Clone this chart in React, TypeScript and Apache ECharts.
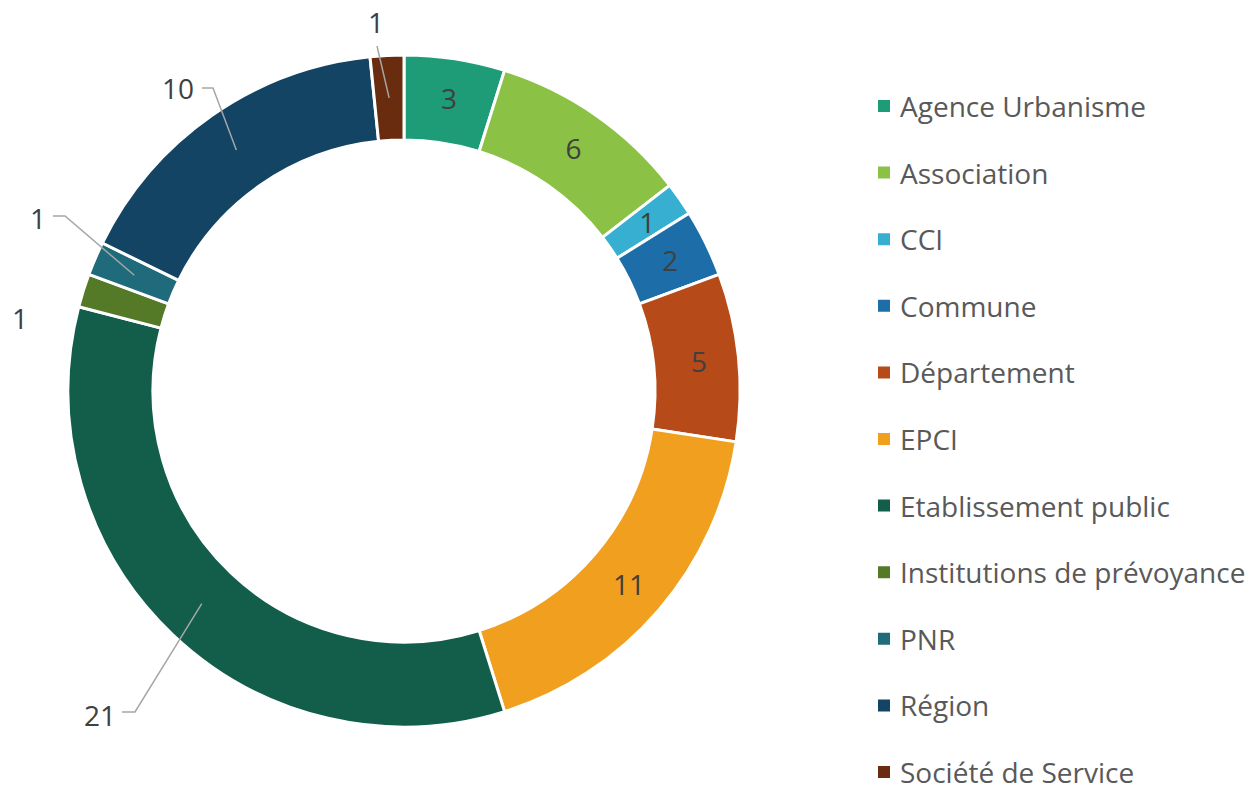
import React, { useEffect, useRef } from "react";
import * as echarts from "echarts";

const categories = [
  "Agence Urbanisme",
  "Association",
  "CCI",
  "Commune",
  "Département",
  "EPCI",
  "Etablissement public",
  "Institutions de prévoyance",
  "PNR",
  "Région",
  "Société de Service",
];
const values = [3, 6, 1, 2, 5, 11, 21, 1, 1, 10, 1];
const colors = [
  "#1E9C78",
  "#8BC145",
  "#37AFD0",
  "#1D6EA8",
  "#B64A19",
  "#F0A01E",
  "#125E4A",
  "#557A27",
  "#1F6B7B",
  "#134464",
  "#6A2C0F",
];

// layout of labels dragged outside the ring (offsets from the pie centre, px)
const CENTER = [404, 391];
const R_IN = 251;
const R_OUT = 336;
const outsidePlacement: Record<string, { label: number[]; elbow?: number[]; end?: number[] }> = {
  "Etablissement public": { label: [-304, 324], elbow: [-269, 321], end: [-282, 321] },
  "Institutions de prévoyance": { label: [-384, -73] },
  PNR: { label: [-366, -173], elbow: [-339, -175], end: [-351, -175] },
  "Région": { label: [-226, -303], elbow: [-191, -303], end: [-202, -303] },
  "Société de Service": { label: [-28, -369], elbow: [-27, -345], end: [-27, -345] },
};

const FONT = "'Open Sans', 'Noto Sans', sans-serif";

export default function App() {
  const ref = useRef<HTMLDivElement>(null);
  useEffect(() => {
    if (!ref.current) return;
    const chart = echarts.init(ref.current, undefined, { renderer: "svg" });
    const mainData = categories.map((name, i) => ({
      name,
      value: values[i],
      itemStyle: { color: colors[i] },
      label: { show: !outsidePlacement[name] },
    }));
    const outerData = categories.map((name, i) => ({
      name,
      value: values[i],
      label: { show: !!outsidePlacement[name] },
      labelLine: { show: !!(outsidePlacement[name] && outsidePlacement[name].elbow) },
    }));
    chart.setOption({
      animation: false,
      backgroundColor: "#ffffff",
      color: colors,
      legend: {
        orient: "vertical",
        left: 876,
        top: 92,
        width: 370,
        height: 740,
        padding: 0,
        itemWidth: 14,
        itemHeight: 14,
        itemGap: 38.6,
        icon: "rect",
        data: categories,
        textStyle: {
          fontFamily: FONT,
          fontSize: 28,
          color: "#595959",
          padding: [0, 0, 0, 4],
        },
      },
      series: [
        {
          type: "pie",
          z: 2,
          center: CENTER,
          radius: [R_IN, R_OUT],
          startAngle: 90,
          clockwise: true,
          avoidLabelOverlap: false,
          silent: true,
          itemStyle: { borderColor: "#ffffff", borderWidth: 3 },
          label: {
            position: "inside",
            formatter: "{c}",
            fontFamily: FONT,
            fontSize: 28,
            color: "#404040",
          },
          labelLine: { show: false },
          emphasis: { disabled: true },
          data: mainData,
        },
        {
          type: "pie",
          z: 5,
          center: CENTER,
          radius: [0, (R_IN + R_OUT) / 2],
          startAngle: 90,
          clockwise: true,
          avoidLabelOverlap: false,
          silent: true,
          legendHoverLink: false,
          itemStyle: { color: "rgba(0,0,0,0)", borderWidth: 0 },
          label: {
            position: "outside",
            formatter: "{c}",
            fontFamily: FONT,
            fontSize: 28,
            color: "#404040",
          },
          labelLine: {
            show: true,
            length: 10,
            length2: 10,
            lineStyle: { color: "#A6A6A6", width: 1.5 },
          },
          emphasis: { disabled: true },
          labelLayout: (params: any) => {
            const name = categories[params.dataIndex];
            const p = outsidePlacement[name];
            if (!p) return {};
            const out: any = {
              x: CENTER[0] + p.label[0],
              y: CENTER[1] + p.label[1],
              align: "center",
              verticalAlign: "middle",
            };
            if (p.elbow && p.end && params.labelLinePoints) {
              const s = params.labelLinePoints[0];
              out.labelLinePoints = [
                s,
                [CENTER[0] + p.elbow[0], CENTER[1] + p.elbow[1]],
                [CENTER[0] + p.end[0], CENTER[1] + p.end[1]],
              ];
            }
            return out;
          },
          data: outerData,
        },
      ],
    });
    return () => chart.dispose();
  }, []);
  return (
    <div
      ref={ref}
      style={{ position: "fixed", left: 0, top: 0, width: 1251, height: 785, background: "#fff" }}
    />
  );
}
